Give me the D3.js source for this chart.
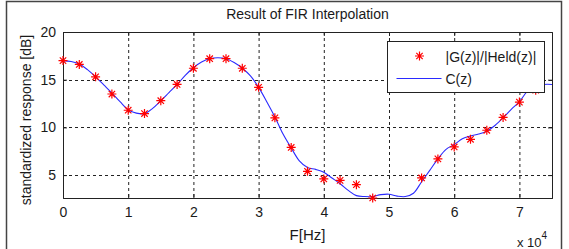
<!DOCTYPE html>
<html>
<head>
<meta charset="utf-8">
<script src="https://cdn.jsdelivr.net/npm/d3@7"></script>
<style>
  body { margin: 0; background: #fff; }
  text { font-family: "Liberation Sans", Arial, sans-serif; fill: #1a1a1a; }
</style>
</head>
<body>
<script>
// data
var starF = [0, 2500, 5000, 7500, 10000, 12500, 15000, 17500, 20000, 22500, 25000, 27500,
             30000, 32500, 35000, 37500, 40000, 42500, 45000, 47500,
             55000, 57500, 60000, 62500, 65000, 67500, 70000, 72500];
var starDb = [17.0, 16.6, 15.3, 13.5, 11.8, 11.45, 12.8, 14.5, 16.2, 17.2, 17.2, 16.2,
              14.2, 11.0, 7.9, 5.4, 4.6, 4.45, 4.0, 2.6,
              4.7, 6.7, 7.95, 8.75, 9.7, 11.05, 12.65, 13.9];

var curveF = [0, 1250, 2500, 3750, 5000, 6250, 7500, 8750, 10000, 11250, 12500, 13750,
              15000, 16250, 17500, 18750, 20000, 21250, 22500, 23750, 25000, 26250,
              27500, 28750, 30000, 31250, 32500, 33750, 35000, 36250, 37500, 38750,
              40000, 41250, 42500, 43750, 45000, 46250, 47500, 48750, 50000, 51250,
              52500, 53750, 55000, 56250, 57500, 58750, 60000, 61250, 62500, 63750,
              65000, 66250, 67500, 68750, 70000, 71250, 72500, 73750, 75000];
var curveDb = [17.0, 16.9, 16.65, 16.05, 15.3, 14.45, 13.6, 12.7, 11.85, 11.5, 11.45, 12.0,
               12.8, 13.65, 14.5, 15.45, 16.25, 16.85, 17.2, 17.3, 17.2, 16.8,
               16.2, 15.4, 14.2, 12.7, 11.1, 9.3, 7.85, 6.5, 5.8, 5.6,
               5.3, 4.7, 4.1, 3.4, 2.85, 2.75, 2.75, 2.95, 3.0, 2.8,
               2.75, 3.1, 4.3, 5.5, 6.7, 7.7, 8.2, 8.8, 9.1, 9.3,
               9.6, 10.2, 11.0, 11.9, 12.7, 13.8, 14.3, 14.5, 14.5];

var xTicks = [0, 10000, 20000, 30000, 40000, 50000, 60000, 70000];
var yTicks = [5, 10, 15, 20];
var legendLabels = ["|G(z)|/|Held(z)|", "C(z)"];

var W = 569, H = 249;
var margin = { top: 32, right: 17, bottom: 51, left: 63 },
    width = W - margin.left - margin.right,
    height = H - margin.top - margin.bottom;

var x = d3.scaleLinear().domain([0, 75000]).range([0, width]);
var y = d3.scaleLinear().domain([2.6, 20]).range([height, 0]);

var root = d3.select("body").append("svg")
    .attr("width", W)
    .attr("height", H);

// outer frame of the figure window
root.append("rect")
    .attr("x", 6.5).attr("y", 1.5)
    .attr("width", 555).attr("height", 260)
    .attr("fill", "none")
    .attr("stroke", "#444")
    .attr("stroke-width", 1.5);

var svg = root.append("g")
    .attr("transform", "translate(" + margin.left + "," + margin.top + ")");

svg.append("clipPath").attr("id", "clip")
  .append("rect").attr("width", width).attr("height", height);

// dashed grid
svg.append("g").selectAll("line.gx")
    .data(xTicks.slice(1))
    .enter().append("line")
    .attr("x1", d => x(d) + 0.5).attr("x2", d => x(d) + 0.5)
    .attr("y1", 0).attr("y2", height)
    .attr("stroke", "#222").attr("stroke-dasharray", "3,3");

svg.append("g").selectAll("line.gy")
    .data(yTicks.slice(0, 3))
    .enter().append("line")
    .attr("y1", d => Math.round(y(d)) + 0.5).attr("y2", d => Math.round(y(d)) + 0.5)
    .attr("x1", 0).attr("x2", width)
    .attr("stroke", "#222").attr("stroke-dasharray", "3,3");

// axes, ticks inside like matlab
var xAxis = svg.append("g")
    .attr("transform", "translate(0," + height + ")")
    .call(d3.axisBottom(x).tickValues(xTicks).tickSize(-4).tickPadding(9)
        .tickFormat(d => d / 10000));
var yAxis = svg.append("g")
    .call(d3.axisLeft(y).tickValues(yTicks).tickSize(-4).tickPadding(7));
var xTop = svg.append("g")
    .call(d3.axisTop(x).tickValues(xTicks).tickSize(-4).tickFormat(""));
var yRight = svg.append("g")
    .attr("transform", "translate(" + width + ",0)")
    .call(d3.axisRight(y).tickValues(yTicks).tickSize(-4).tickFormat(""));

[xAxis, yAxis, xTop, yRight].forEach(function (g) {
    g.selectAll("path,line").attr("stroke", "#222");
    g.selectAll("text").style("font-size", "14px").attr("fill", "#1a1a1a");
});

// fitted curve
var line = d3.line()
    .x((d, i) => x(curveF[i]))
    .y(d => y(d))
    .curve(d3.curveCatmullRom);

svg.append("path")
    .datum(curveDb)
    .attr("clip-path", "url(#clip)")
    .attr("d", line)
    .attr("fill", "none")
    .attr("stroke", "#2a2aff")
    .attr("stroke-width", 1.1);

// star markers
var starPath = "M-4.5,0H4.5M0,-4.5V4.5M-3.2,-3.2L3.2,3.2M-3.2,3.2L3.2,-3.2";
svg.append("g").selectAll("path.star")
    .data(starDb)
    .enter().append("path")
    .attr("transform", (d, i) => "translate(" + x(starF[i]) + "," + y(d) + ")")
    .attr("d", starPath)
    .attr("fill", "none")
    .attr("stroke", "#ff0000")
    .attr("stroke-width", 1.2);

// legend
var lg = svg.append("g").attr("transform", "translate(" + (387.5 - margin.left) + "," + (41.5 - margin.top) + ")");
lg.append("rect")
    .attr("width", 157).attr("height", 51)
    .attr("fill", "#fff").attr("stroke", "#222");
lg.append("path")
    .attr("transform", "translate(32,14.5)")
    .attr("d", starPath)
    .attr("fill", "none").attr("stroke", "#ff0000").attr("stroke-width", 1.2);
lg.append("line")
    .attr("x1", 9).attr("x2", 54).attr("y1", 37).attr("y2", 37)
    .attr("stroke", "#2a2aff").attr("stroke-width", 1.1);
lg.selectAll("text.lab")
    .data(legendLabels)
    .enter().append("text")
    .attr("x", 58).attr("y", (d, i) => 20 + i * 22)
    .style("font-size", "14px")
    .text(d => d);

// titles
root.append("text")
    .attr("x", margin.left + width / 2).attr("y", 19)
    .attr("text-anchor", "middle")
    .style("font-size", "14px")
    .text("Result of FIR Interpolation");

root.append("text")
    .attr("transform", "translate(31," + (margin.top + height / 2 + 5) + ") rotate(-90)")
    .attr("text-anchor", "middle")
    .style("font-size", "14px")
    .text("standardized response [dB]");

root.append("text")
    .attr("x", margin.left + width / 2).attr("y", 240)
    .attr("text-anchor", "middle")
    .style("font-size", "15px")
    .text("F[Hz]");

var ex = root.append("text")
    .attr("x", 517).attr("y", 247)
    .style("font-size", "13px");
ex.append("tspan").text("x 10");
ex.append("tspan").attr("dy", -8).style("font-size", "10px").text("4");
</script>
</body>
</html>
